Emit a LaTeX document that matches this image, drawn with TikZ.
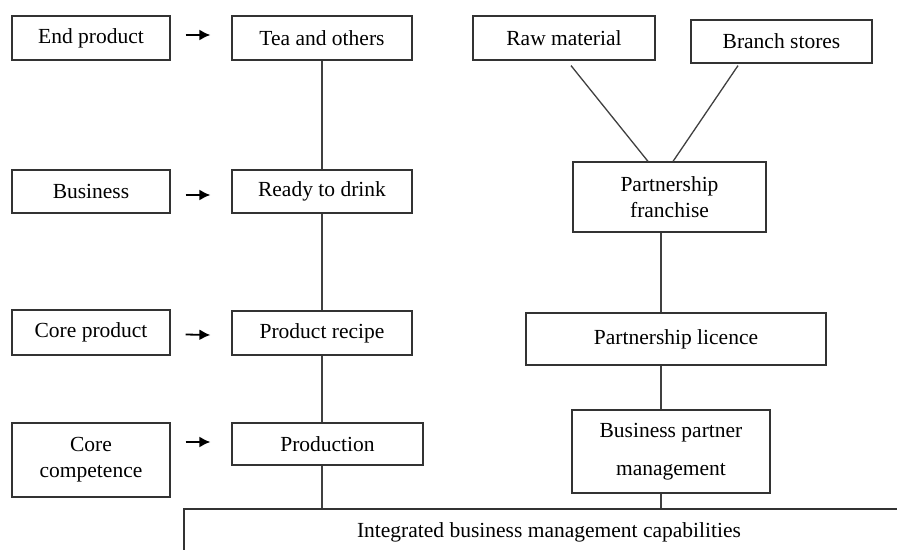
\documentclass[tikz,border=0pt]{standalone}
\usepackage{fontspec}
\setmainfont{Liberation Serif}
\usetikzlibrary{arrows.meta}
\begin{document}
\begin{tikzpicture}[x=1pt,y=-1pt,
  box/.style={draw=black!80, line width=1.2pt, align=center, inner sep=0pt,
    font=\fontsize{21.5}{26}\selectfont},
  link/.style={draw=black!75, line width=1.3pt},
  arr/.style={draw=black, line width=1.8pt, -{Latex[length=11pt,width=11pt]}}]
\useasboundingbox (0,0) rectangle (897,549);
\clip (0,0) rectangle (897,549);
\fill[white] (0,0) rectangle (897,549);
% left column
\node[box, minimum width=158pt, minimum height=44pt] (endp) at (91,38) {End product};
\node[box, minimum width=158pt, minimum height=43pt] (bus) at (91,191.5) {Business};
\node[box, minimum width=158pt, minimum height=45pt] (corep) at (91,332.5) {Core product};
\node[box, minimum width=158pt, minimum height=74pt] (corec) at (91,460) {Core\\competence};
% middle column
\node[box, minimum width=180pt, minimum height=44pt] (tea) at (322,38) {Tea and others};
\node[box, minimum width=180pt, minimum height=43pt] (rtd) at (322,191.5) {Ready to drink};
\node[box, minimum width=180pt, minimum height=44pt] (recipe) at (322,333) {Product recipe};
\node[box, minimum width=191pt, minimum height=42pt] (prod) at (327.5,444) {Production};
% right column
\node[box, minimum width=182pt, minimum height=44pt] (raw) at (564,38) {Raw material};
\node[box, minimum width=181pt, minimum height=43pt] (branch) at (781.5,41.5) {Branch stores};
\node[box, minimum width=193pt, minimum height=70pt] (franch) at (669.5,197) {Partnership\\franchise};
\node[box, minimum width=300pt, minimum height=52pt] (lic) at (676,339) {Partnership licence};
\node[box, minimum width=198pt, minimum height=83pt] (bpm) at (671,451.5) {Business partner\\[12pt]management};
% bottom
\node[box, minimum width=730pt, minimum height=47pt] (integ) at (549,532.5) {Integrated business management capabilities};
% arrows
\draw[arr] ([xshift=15pt,yshift=3pt]endp.east) -- ([xshift=-21pt,yshift=3pt]tea.west);
\draw[arr] ([xshift=15pt,yshift=-3.5pt]bus.east) -- ([xshift=-21pt,yshift=-3.5pt]rtd.west);
\draw[arr] ([xshift=15pt,yshift=-2pt]corep.east) -- ([xshift=-21pt,yshift=-2pt]recipe.west);
\draw[arr] ([xshift=15pt,yshift=2pt]corec.east |- prod.west) -- ([xshift=-21pt,yshift=2pt]prod.west);
% middle links
\draw[link] (tea.south) -- (rtd.north);
\draw[link] (rtd.south) -- (recipe.north);
\draw[link] (recipe.south) -- (recipe.south |- prod.north);
\draw[link] (prod.south -| recipe.south) -- (recipe.south |- integ.north);
% right links
\draw[link] ([xshift=7pt,yshift=-5pt]raw.south) -- ([xshift=-21.5pt]franch.north);
\draw[link] ([xshift=-43.5pt,yshift=-2pt]branch.south) -- ([xshift=3.5pt]franch.north);
\draw[link] ([xshift=-8.5pt]franch.south) -- ([xshift=-8.5pt]franch.south |- lic.north);
\draw[link] ([xshift=-15pt]lic.south) -- ([xshift=-15pt]lic.south |- bpm.north);
\draw[link] ([xshift=-10pt]bpm.south) -- ([xshift=-10pt]bpm.south |- integ.north);
\end{tikzpicture}
\end{document}
